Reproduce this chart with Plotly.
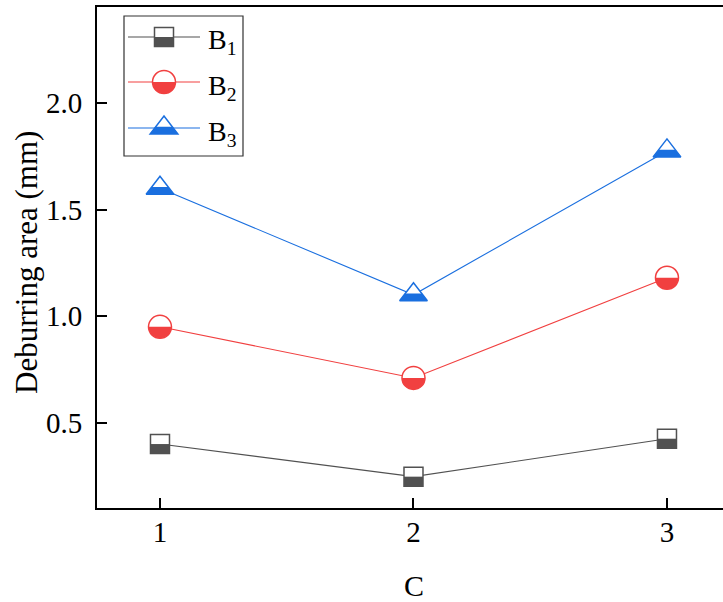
import plotly.graph_objects as go

# ---- data ----
C_levels = [1, 2, 3]
B1 = [0.40, 0.247, 0.425]
B2 = [0.95, 0.71, 1.18]
B3 = [1.60, 1.10, 1.775]
series_names = ["B<sub>1</sub>", "B<sub>2</sub>", "B<sub>3</sub>"]
x_ticks = [1, 2, 3]
y_ticks = [0.5, 1.0, 1.5, 2.0]
y_tick_labels = ["0.5", "1.0", "1.5", "2.0"]
x_title = "C"
y_title = "Deburring area (mm)"

# ---- style ----
colors = ["#515151", "#F14040", "#1A6FDF"]
symbols = ["square", "circle", "triangle-up"]
sizes = [19, 23, 24]
FONT = "Times New Roman, Liberation Serif, serif"
W, H = 723, 602
ML, MR, MT, MB = 97, 0, 7, 94
PW, PH = W - ML - MR, H - MT - MB


def half_path(sym, size):
    r = size / 2.0
    if sym == "square":
        return f"M{-r},{-r} L{r},{-r} L{r},0 L{-r},0 Z"
    if sym == "circle":
        k = 0.5523 * r
        return (f"M{-r},0 C{-r},{-k} {-k},{-r} 0,{-r} "
                f"C{k},{-r} {r},{-k} {r},0 Z")
    # plotly triangle-up: apex at +r, base at -r/2, half width rt
    rt = r * 2 / 3 ** 0.5
    s = 0.1 * r
    hw = rt * (r - s) / (1.5 * r)
    return f"M{-rt},{-r/2} L{rt},{-r/2} L{hw},{s} L{-hw},{s} Z"


def full_path(sym, size):
    r = size / 2.0
    if sym == "square":
        return f"M{-r},{-r} L{r},{-r} L{r},{r} L{-r},{r} Z"
    if sym == "circle":
        k = 0.5523 * r
        return (f"M{-r},0 C{-r},{-k} {-k},{-r} 0,{-r} "
                f"C{k},{-r} {r},{-k} {r},0 "
                f"C{r},{k} {k},{r} 0,{r} C{-k},{r} {-r},{k} {-r},0 Z")
    rt = r * 2 / 3 ** 0.5
    return f"M{-rt},{-r/2} L{rt},{-r/2} L0,{r} Z"


def px_x(px):
    return (px - ML) / PW


def px_y(py):
    return (H - MB - py) / PH


fig = go.Figure()
shapes = []
all_series = [B1, B2, B3]
for name, vals, col, sym, sz in zip(series_names, all_series, colors, symbols, sizes):
    fig.add_trace(go.Scatter(
        x=C_levels, y=vals, mode="lines+markers", name=name,
        line=dict(color=col, width=1.1),
        marker=dict(symbol=sym, size=sz, color="white",
                    line=dict(color=col, width=1.5)),
        showlegend=False, cliponaxis=False,
    ))
    for xv, yv in zip(C_levels, vals):
        shapes.append(dict(
            type="path", xref="x", yref="y",
            xsizemode="pixel", ysizemode="pixel",
            xanchor=xv, yanchor=yv,
            path=half_path(sym, sz),
            fillcolor=col, line=dict(width=0), layer="above",
        ))

# ---- manual legend ----
leg_left, leg_right, leg_top, leg_bottom = 124, 243, 16, 156
shapes.append(dict(type="rect", xref="paper", yref="paper",
                   x0=px_x(leg_left), x1=px_x(leg_right),
                   y0=px_y(leg_bottom), y1=px_y(leg_top),
                   line=dict(color="#333333", width=1.2),
                   fillcolor="rgba(0,0,0,0)", layer="above"))
row_y = [37, 82, 128]
annotations = []
for name, col, sym, sz, ry in zip(series_names, colors, symbols, sizes, row_y):
    shapes.append(dict(type="line", xref="paper", yref="paper",
                       x0=px_x(128), x1=px_x(200), y0=px_y(ry), y1=px_y(ry),
                       line=dict(color=col, width=1.1), layer="above"))
    shapes.append(dict(type="path", xref="paper", yref="paper",
                       xsizemode="pixel", ysizemode="pixel",
                       xanchor=px_x(164), yanchor=px_y(ry),
                       path=full_path(sym, sz), fillcolor="white",
                       line=dict(color=col, width=1.5), layer="above"))
    shapes.append(dict(type="path", xref="paper", yref="paper",
                       xsizemode="pixel", ysizemode="pixel",
                       xanchor=px_x(164), yanchor=px_y(ry),
                       path=half_path(sym, sz), fillcolor=col,
                       line=dict(width=0), layer="above"))
    annotations.append(dict(text=name, xref="paper", yref="paper",
                            x=px_x(206), y=px_y(ry + 5), xanchor="left",
                            yanchor="middle", showarrow=False,
                            font=dict(family=FONT, size=28, color="black")))

# axis titles as annotations for precise placement
annotations.append(dict(text=y_title, xref="paper", yref="paper",
                        x=px_x(26), y=px_y(263), xanchor="center",
                        yanchor="middle", textangle=-90, showarrow=False,
                        font=dict(family=FONT, size=31, color="black")))
annotations.append(dict(text=x_title, xref="paper", yref="paper",
                        x=px_x(414), y=px_y(585), xanchor="center",
                        yanchor="middle", showarrow=False,
                        font=dict(family=FONT, size=30, color="black")))

fig.update_layout(
    width=W, height=H,
    margin=dict(l=ML, r=MR, t=MT, b=MB, pad=0),
    paper_bgcolor="white", plot_bgcolor="white",
    font=dict(family=FONT, size=29, color="black"),
    shapes=shapes, annotations=annotations,
    xaxis=dict(range=[0.7515, 3.221], tickvals=x_ticks,
               ticktext=[str(v) for v in x_ticks],
               showline=True, linecolor="black", linewidth=2, mirror=True,
               ticks="inside", ticklen=10, tickwidth=2, tickcolor="black",
               ticklabelstandoff=-3,
               showgrid=False, zeroline=False,
               tickfont=dict(family=FONT, size=29)),
    yaxis=dict(range=[0.10, 2.45], tickvals=y_ticks, ticktext=y_tick_labels,
               showline=True, linecolor="black", linewidth=2, mirror=False,
               ticks="inside", ticklen=10, tickwidth=2, tickcolor="black",
               ticklabelstandoff=7,
               showgrid=False, zeroline=False,
               tickfont=dict(family=FONT, size=29)),
)

fig.write_html("out.html")
